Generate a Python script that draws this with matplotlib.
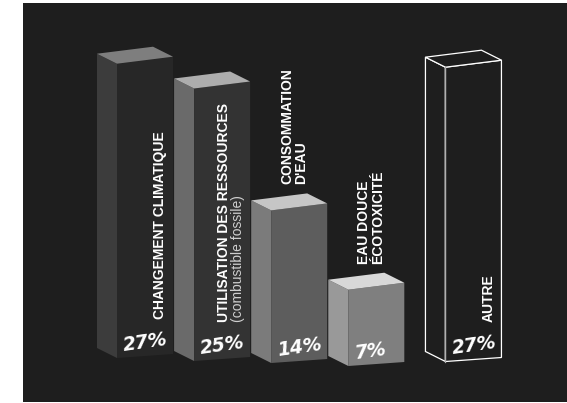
import matplotlib.pyplot as plt
from matplotlib.patches import Polygon, Rectangle

# data
categories = ["CHANGEMENT CLIMATIQUE", "UTILISATION DES RESSOURCES",
              "CONSOMMATION\nD'EAU", "EAU DOUCE\nÉCOTOXICITÉ", "AUTRE"]
sublabels = ["", "(combustible fossile)", "", "", ""]
values = [27, 25, 14, 7, 27]
pct_labels = ["27%", "25%", "14%", "7%", "27%"]
label_inside = [True, True, False, False, True]

# colours per bar: front, left side, top
front_colors = ["#272727", "#333333", "#5d5d5d", "#7f7f7f", "#1e1e1e"]
side_colors = ["#3c3c3c", "#6a6a6a", "#7b7b7b", "#999999", "#1e1e1e"]
top_colors = ["#7e7e7e", "#adadad", "#c6c6c6", "#d8d8d8", "#1e1e1e"]
outlined = [False, False, False, False, True]

BG = "#1e1e1e"

# layout (pixels)
slots = [0, 1, 2, 3, 4.26]
X0, STEP = 97, 77.1
base_y = [358, 361, 363, 366, 361.5]
PX_PER_PCT = 10.9
SIDE_W, SIDE_DY = 20, 10
FRONT_W, TOP_RISE, BOT_RISE = 56, 7, 4

LABEL_FONT = ['Liberation Sans', 'DejaVu Sans']

fig = plt.figure(figsize=(5.67, 4.03), dpi=100, facecolor="white")
ax = fig.add_axes([0, 0, 1, 1])
ax.set_xlim(0, 567)
ax.set_ylim(403, 0)
ax.axis("off")
ax.add_patch(Rectangle((23, 3), 567 - 23, 399, facecolor=BG, edgecolor="none"))

for i, v in enumerate(values):
    x0 = X0 + STEP * slots[i]
    x1 = x0 + SIDE_W
    x2 = x1 + FRONT_W
    yb = base_y[i]
    yt = yb - v * PX_PER_PCT

    left = [(x0, yb - SIDE_DY), (x1, yb), (x1, yt), (x0, yt - SIDE_DY)]
    front = [(x1, yb), (x2, yb - BOT_RISE), (x2, yt - TOP_RISE), (x1, yt)]
    top = [(x0, yt - SIDE_DY), (x1, yt), (x2, yt - TOP_RISE),
           (x2 - SIDE_W, yt - TOP_RISE - SIDE_DY)]

    if outlined[i]:
        kw = dict(edgecolor="white", linewidth=0.9, joinstyle="miter")
    else:
        kw = dict(edgecolor="none")
    ax.add_patch(Polygon(left, closed=True, facecolor=side_colors[i], **kw))
    ax.add_patch(Polygon(front, closed=True, facecolor=front_colors[i], **kw))
    ax.add_patch(Polygon(top, closed=True, facecolor=top_colors[i], **kw))
    if outlined[i]:
        # shared edge between side and front is drawn a bit softer
        ax.plot([x1, x1], [yb, yt], color="#b0b0b0", linewidth=0.9)

    # category label
    if label_inside[i]:
        if sublabels[i]:
            ax.text(x2 - 26, yb - 39, categories[i], rotation=90, ha="center",
                    va="bottom", color="white", fontsize=10, fontweight="bold",
                    family=LABEL_FONT)
            ax.text(x2 - 12.5, yb - 39, sublabels[i], rotation=90, ha="center",
                    va="bottom", color="#cfcfcf", fontsize=10, family=LABEL_FONT)
        else:
            ax.text(x2 - 13, yb - 39, categories[i], rotation=90, ha="center",
                    va="bottom", color="white", fontsize=10, fontweight="bold",
                    family=LABEL_FONT)
    else:
        ax.text(x1 + 23, yt - TOP_RISE - SIDE_DY - 9, categories[i], rotation=90,
                ha="center", va="bottom", multialignment="left", color="white",
                fontsize=10, fontweight="bold", linespacing=1.05,
                family=LABEL_FONT)

    # percentage
    ax.text(x1 + 7, yb - 7, pct_labels[i], rotation=8, rotation_mode="anchor",
            ha="left", va="baseline", color="white", fontsize=13.5,
            fontweight="bold", fontstyle="oblique", family="DejaVu Sans")

fig.savefig("out.png", dpi=100, facecolor=fig.get_facecolor())
